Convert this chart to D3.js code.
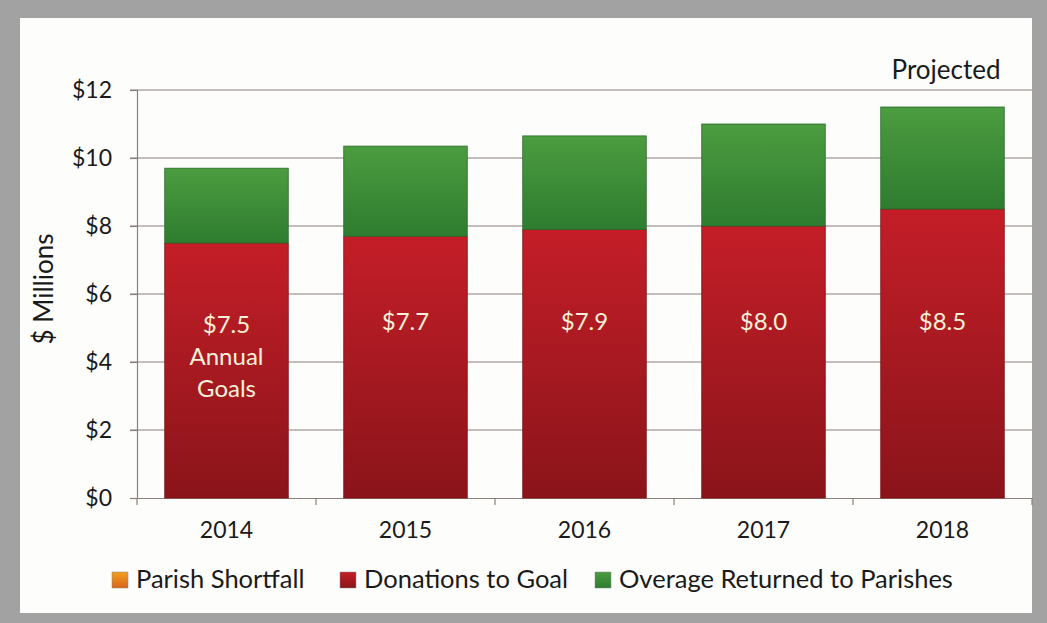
<!DOCTYPE html>
<html lang="en">
<head>
<meta charset="UTF-8">
<title>Annual Goals</title>
<script src="https://cdnjs.cloudflare.com/ajax/libs/d3/7.8.5/d3.min.js"></script>
<style>
  body { margin: 0; background: #a3a2a2; }
  svg text { font-family: Lato, "Open Sans", sans-serif; fill: #1a1a1a; }
</style>
</head>
<body>
<div id="chart"></div>
<script>
const years = ["2014", "2015", "2016", "2017", "2018"];
const shortfall = [0, 0, 0, 0, 0];
const donations = [7.5, 7.7, 7.9, 8.0, 8.5];
const overage = [2.2, 2.65, 2.75, 3.0, 3.0];
const yTicks = [0, 2, 4, 6, 8, 10, 12];
const seriesNames = ["Parish Shortfall", "Donations to Goal", "Overage Returned to Parishes"];

const W = 1047, H = 623;
const svg = d3.select("#chart").append("svg").attr("width", W).attr("height", H);

const defs = svg.append("defs");
function grad(id, top, bottom) {
  const g = defs.append("linearGradient").attr("id", id)
    .attr("x1", 0).attr("y1", 0).attr("x2", 0).attr("y2", 1);
  g.append("stop").attr("offset", "0%").attr("stop-color", top);
  g.append("stop").attr("offset", "100%").attr("stop-color", bottom);
}
grad("gRed", "#c41e28", "#8a141a");
grad("gGreen", "#4c9c40", "#2e7c2f");
grad("gOrange", "#f4a020", "#d8641a");

// white panel
svg.append("rect").attr("x", 20).attr("y", 18).attr("width", 1012).attr("height", 595).attr("fill", "#fdfdfc");

const m = { left: 137, right: 1032, top: 90, bottom: 498 };
const x = d3.scaleBand().domain(years).range([m.left, m.right]).paddingInner(0.31).paddingOuter(0.155);
const y = d3.scaleLinear().domain([0, 12]).range([m.bottom, m.top]);

// gridlines
svg.append("g").selectAll("line").data(yTicks.filter(d => d > 0)).join("line")
  .attr("x1", m.left - 7).attr("x2", m.right).attr("y1", d => y(d)).attr("y2", d => y(d))
  .attr("stroke", "#8d7f7b").attr("stroke-width", 1.2);

// y axis
const yAxis = svg.append("g").attr("transform", `translate(${m.left},0)`)
  .call(d3.axisLeft(y).tickValues(yTicks).tickSize(7).tickPadding(18).tickFormat(d => "$" + d));
yAxis.select(".domain").attr("stroke", "#8d7f7b").attr("stroke-width", 1.2);
yAxis.selectAll(".tick line").attr("stroke", "#8d7f7b").attr("stroke-width", 1.2);
yAxis.selectAll("text").attr("font-size", 23).attr("fill", "#1a1a1a");

// x axis
const xAxis = svg.append("g").attr("transform", `translate(0,${m.bottom})`)
  .call(d3.axisBottom(x).tickSize(0).tickPadding(24));
xAxis.select(".domain").attr("stroke", "#8d7f7b").attr("stroke-width", 1.2);
xAxis.selectAll("text").attr("font-size", 23).attr("fill", "#1a1a1a");
// category separators
const step = x.step();
svg.append("g").selectAll("line").data(d3.range(years.length + 1)).join("line")
  .attr("x1", i => m.left + i * step).attr("x2", i => m.left + i * step)
  .attr("y1", m.bottom).attr("y2", m.bottom + 7)
  .attr("stroke", "#8d7f7b").attr("stroke-width", 1.2);

// stacked bars
const rows = years.map((yr, i) => ({ year: yr, shortfall: shortfall[i], donations: donations[i], overage: overage[i] }));
const stack = d3.stack().keys(["shortfall", "donations", "overage"])(rows);
const fills = { shortfall: "url(#gOrange)", donations: "url(#gRed)", overage: "url(#gGreen)" };
const edges = { shortfall: "#c0601a", donations: "#7d1218", overage: "#2a6a2a" };

stack.forEach(layer => {
  svg.append("g").selectAll("rect").data(layer).join("rect")
    .attr("x", d => x(d.data.year))
    .attr("width", x.bandwidth())
    .attr("y", d => layer.key === "shortfall" ? y(d[1]) - 1.5 : y(d[1]))
    .attr("height", d => layer.key === "shortfall" ? Math.max(1.5, y(d[0]) - y(d[1])) : y(d[0]) - y(d[1]))
    .attr("fill", fills[layer.key])
    .attr("stroke", layer.key === "shortfall" ? "none" : edges[layer.key])
    .attr("stroke-width", 0.8);
});

// bar value labels
const labelLines = years.map((yr, i) => i === 0 ? ["$" + donations[i].toFixed(1), "Annual", "Goals"] : ["$" + donations[i].toFixed(1)]);
years.forEach((yr, i) => {
  const t = svg.append("text").attr("text-anchor", "middle")
    .attr("x", x(yr) + x.bandwidth() / 2).attr("y", i === 0 ? 333 : 330)
    .attr("font-size", 24).style("fill", "#f6f0d8");
  labelLines[i].forEach((s, j) => t.append("tspan").attr("x", x(yr) + x.bandwidth() / 2).attr("dy", j ? 32 : 0).text(s));
});

// y title
svg.append("text").attr("transform", "translate(53,289) rotate(-90)")
  .attr("text-anchor", "middle").attr("font-size", 26).text("$ Millions");

// projected note
svg.append("text").attr("x", 946).attr("y", 79).attr("text-anchor", "middle")
  .attr("font-size", 26).text("Projected");

// legend
const legendX = [112, 340, 595];
const legendFill = ["url(#gOrange)", "url(#gRed)", "url(#gGreen)"];
const lg = svg.append("g");
seriesNames.forEach((n, i) => {
  lg.append("rect").attr("x", legendX[i]).attr("y", 572).attr("width", 16).attr("height", 16)
    .attr("fill", legendFill[i]).attr("stroke", "#888").attr("stroke-width", 0.5);
  lg.append("text").attr("x", legendX[i] + 24).attr("y", 588).attr("font-size", 25.5).text(n);
});
</script>
</body>
</html>
